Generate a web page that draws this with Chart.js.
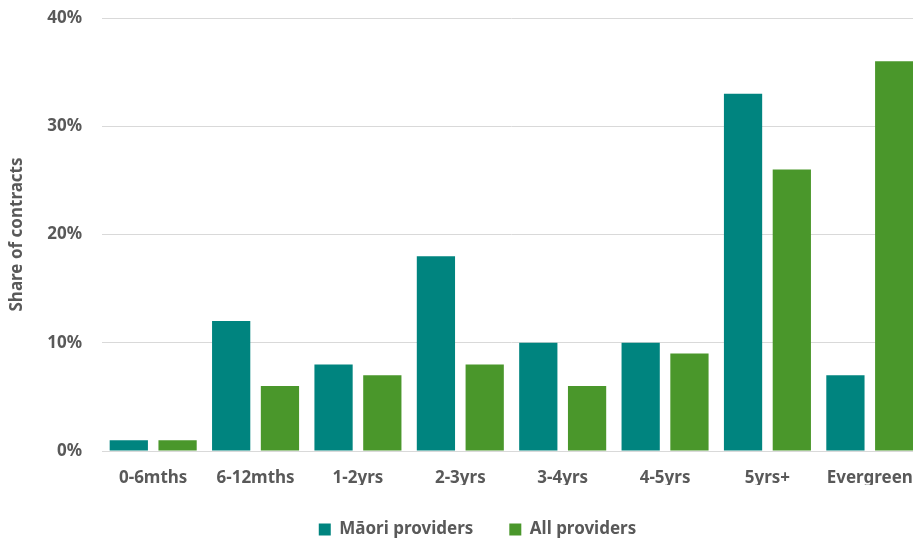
<!DOCTYPE html>
<html>
<head>
<meta charset="utf-8">
<script src="https://cdn.jsdelivr.net/npm/chart.js@4/dist/chart.umd.min.js"></script>
<style>
  html, body { margin: 0; padding: 0; background: #fff; overflow: hidden; }
  #wrap { width: 913px; height: 538px; overflow: hidden; position: relative; }
  #box { width: 921px; height: 538px; position: absolute; left: 0; top: 0; }
</style>
</head>
<body>
<div id="wrap"><div id="box"><canvas id="chart"></canvas></div></div>
<script>
// Contract length bands
const categories = ['0-6mths', '6-12mths', '1-2yrs', '2-3yrs', '3-4yrs', '4-5yrs', '5yrs+', 'Evergreen'];
// Share of contracts (%)
const maoriProviders = [1, 12, 8, 18, 10, 10, 33, 7];
const allProviders = [1, 6, 7, 8, 6, 9, 26, 36];
const yTicks = [0, 10, 20, 30, 40];

const textColor = '#595959';
const fontFamily = '"Noto Sans", "Open Sans", sans-serif';
const labelFont = { family: fontFamily, size: 17, weight: 'bold' };

// Nudge the legend row a little to the right of the canvas centre
const legendShift = {
  id: 'legendShift',
  afterLayout(chart) {
    if (chart.legend) {
      chart.legend.left += 17;
      chart.legend.right += 17;
    }
  }
};

new Chart(document.getElementById('chart'), {
  type: 'bar',
  data: {
    labels: categories,
    datasets: [
      { label: 'Māori providers', data: maoriProviders, backgroundColor: '#00847F',
        categoryPercentage: 0.953, barPercentage: 0.784 },
      { label: 'All providers', data: allProviders, backgroundColor: '#4A972B',
        categoryPercentage: 0.953, barPercentage: 0.784 }
    ]
  },
  plugins: [legendShift],
  options: {
    responsive: true,
    maintainAspectRatio: false,
    animation: false,
    layout: { padding: { left: 0, right: 0, top: 18, bottom: -10 } },
    plugins: {
      legend: {
        position: 'bottom',
        labels: {
          color: textColor,
          font: labelFont,
          boxWidth: 12, boxHeight: 12, padding: 36
        }
      },
      tooltip: { enabled: false }
    },
    scales: {
      x: {
        grid: { display: false, drawTicks: false },
        border: { color: '#D9D9D9', width: 1 },
        ticks: { color: textColor, padding: 17, font: labelFont },
        afterFit: s => { s.height = 34; s.paddingLeft = 0; s.paddingRight = 0; }
      },
      y: {
        min: 0, max: 40,
        afterBuildTicks: s => { s.ticks = yTicks.map(v => ({ value: v })); },
        grid: { color: '#D9D9D9', drawTicks: false },
        border: { display: false },
        ticks: { color: textColor, padding: 20, font: labelFont,
                 callback: v => v + '%' },
        title: { display: true, text: 'Share of contracts', color: textColor, padding: { top: 7, bottom: 0 },
                 font: labelFont },
        afterFit: s => { s.width = 102; s.paddingTop = 0; s.paddingBottom = 0; }
      }
    }
  }
});
</script>
</body>
</html>
